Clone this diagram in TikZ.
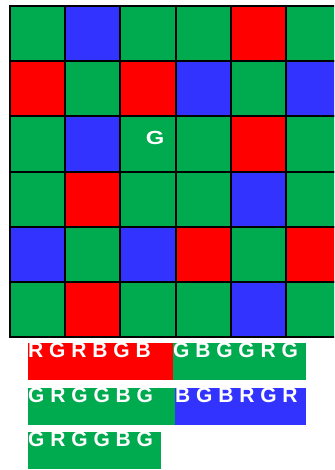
\documentclass[tikz,border=0pt]{standalone}
\usepackage{fontspec}
\setmainfont{Liberation Sans}
\usetikzlibrary{positioning}
\definecolor{colG}{RGB}{0,170,79}
\definecolor{colB}{RGB}{51,51,255}
\definecolor{colR}{RGB}{255,0,0}
\tikzset{
  px/.style={x=1pt, y=-1pt},
  cell/.style={draw=black, line width=2pt, minimum size=55.2pt, inner sep=0pt, anchor=north west},
  seq box/.style={minimum height=37pt, inner sep=0pt, anchor=north west},
  seq txt/.style={text=white, font=\fontsize{21}{21}\selectfont\bfseries, inner sep=0pt, anchor=north west},
  mark txt/.style={text=white, font=\fontsize{19}{19}\selectfont\bfseries, inner sep=0pt},
}

\begin{document}
\begin{tikzpicture}[px]
\clip (0,0) rectangle (334,470);
% mosaic
\foreach \row [count=\r from 0] in {{G,B,G,G,R,G},{R,G,R,B,G,B},{G,B,G,G,R,G},{G,R,G,G,B,G},{B,G,B,R,G,R},{G,R,G,G,B,G}}{
  \foreach \c [count=\k from 0] in \row
    \node[cell, fill=col\c] (c\r\k) at (9+55.2*\k, 5+55.2*\r) {};
}
\node[mark txt] (mark) at (155,138) {\scalebox{1.25}[1]{G}};
% row strings
\node[seq box, fill=colR, minimum width=145pt] (b1) at (28,343) {};
\node[seq box, fill=colG, minimum width=133pt, right=-0.5pt of b1] (b2) {};
\node[seq box, fill=colG, minimum width=147pt] (b3) at (28,388) {};
\node[seq box, fill=colB, minimum width=131pt, right=-0.5pt of b3] (b4) {};
\node[seq box, fill=colG, minimum width=133pt] (b5) at (28,432) {};
\node[seq txt] (t1) at (b1.north west) {R G R B G B};
\node[seq txt] (t2) at (b2.north west) {G B G G R G};
\node[seq txt] (t3) at (b3.north west) {G R G G B G};
\node[seq txt] (t4) at (b4.north west) {B G B R G R};
\node[seq txt] (t5) at (b5.north west) {G R G G B G};
\end{tikzpicture}
\end{document}
